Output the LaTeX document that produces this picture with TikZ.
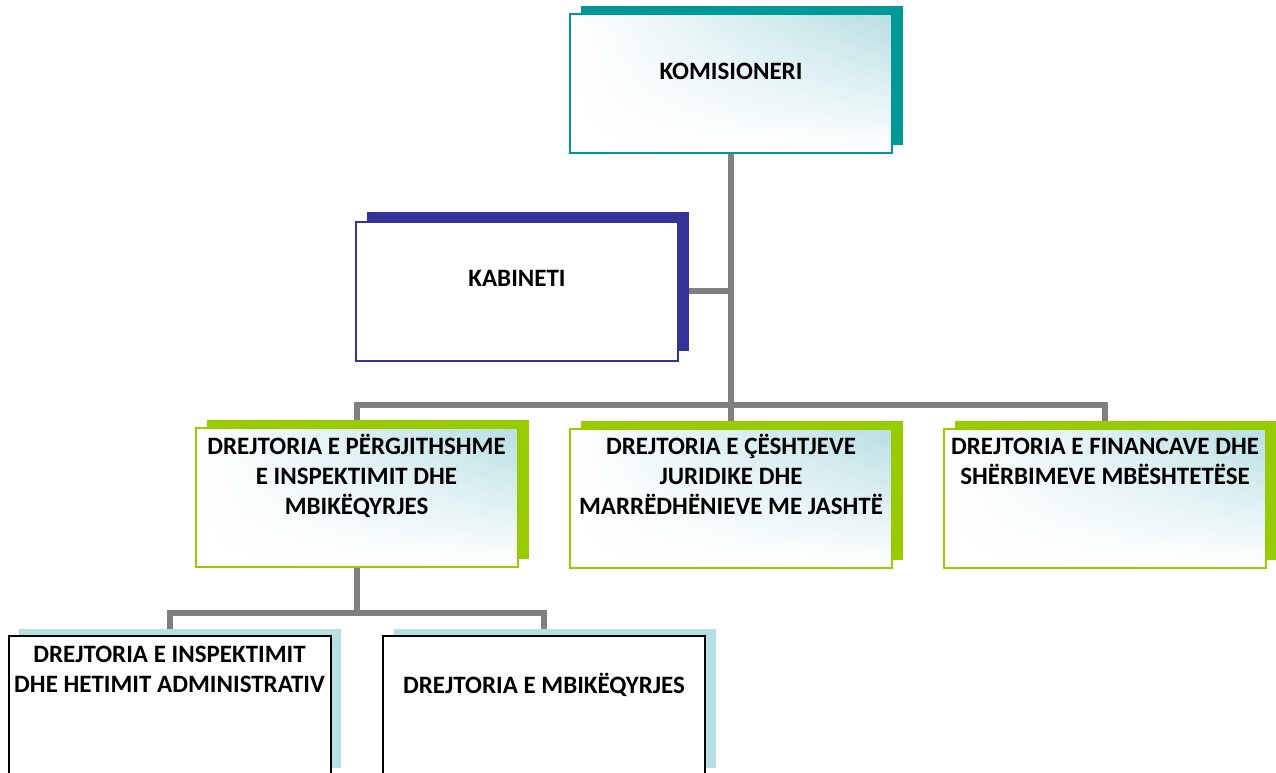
\documentclass[tikz,border=0pt]{standalone}
\usepackage{fontspec}
\setmainfont{Carlito}
\usetikzlibrary{shadows,shadings,backgrounds}
\definecolor{tealc}{HTML}{009999}
\definecolor{navyc}{HTML}{333399}
\definecolor{limec}{HTML}{99CC00}
\definecolor{paleblue}{HTML}{B7DEE3}
\definecolor{linegray}{HTML}{808080}
\newcommand{\ml}[1]{\begin{tabular}[t]{@{}c@{}}#1\end{tabular}}
\begin{document}
\begin{tikzpicture}[x=0.75pt,y=-0.75pt,
  box/.style={rectangle, minimum width=241.5pt, minimum height=104.25pt, inner sep=0pt, line width=1.5pt},
  gradbox/.style={box, lower left=white, upper left=white, lower right=white, upper right=paleblue},
  topbox/.style={gradbox, draw=tealc, drop shadow={shadow xshift=8.25pt, shadow yshift=6pt, fill=tealc, opacity=1}},
  cabbox/.style={box, fill=white, draw=navyc, drop shadow={shadow xshift=8.25pt, shadow yshift=7pt, fill=navyc, opacity=1}},
  dirbox/.style={gradbox, draw=limec, drop shadow={shadow xshift=8.25pt, shadow yshift=6pt, fill=limec, opacity=1}},
  subbox/.style={box, fill=white, draw=black, drop shadow={shadow xshift=8pt, shadow yshift=5.25pt, fill=paleblue, opacity=1}},
  conn/.style={draw=linegray, line width=4.5pt},
  lbl/.style={font=\fontsize{18.75}{22.5}\selectfont\bfseries, inner sep=0pt, anchor=base}]
\clip (0,0) rectangle (1276,772);
% boxes
\node[topbox] (kom) at (731,83.5) {};
\node[cabbox] (kab) at (517,291) {};
\node[dirbox] (a) at (356.5,497.5) {};
\node[dirbox] (b) at (731,498) {};
\node[dirbox] (c) at (1105,498) {};
\node[subbox] (d) at (169.5,705) {};
\node[subbox] (e) at (544,705) {};
\coordinate (bus) at (731,405);
\coordinate (bus2) at (357,613);
% connectors
\begin{scope}[on background layer]
\fill[white] (0,0) rectangle (1276,772);
\draw[conn] (kom.south) -- (b.north);
\draw[conn] (kab.east) -- (kab.east -| kom.south);
\draw[conn] (a.north) -- (a.north |- bus) -- (c.north |- bus) -- (c.north);
\draw[conn] (a.south) -- (a.south |- bus2);
\draw[conn] (d.north) -- (d.north |- bus2) -- (e.north |- bus2) -- (e.north);
\end{scope}
% labels
\node[lbl] (kom-t) at (731,79) {KOMISIONERI};
\node[lbl] (kab-t) at (517,286) {KABINETI};
\node[lbl] (a-t) at (356.5,454) {\ml{DREJTORIA E PËRGJITHSHME\\E INSPEKTIMIT DHE\\MBIKËQYRJES}};
\node[lbl] (b-t) at (731,454) {\ml{DREJTORIA E ÇËSHTJEVE\\JURIDIKE DHE\\MARRËDHËNIEVE ME JASHTË}};
\node[lbl] (c-t) at (1105,454) {\ml{DREJTORIA E FINANCAVE DHE\\SHËRBIMEVE MBËSHTETËSE}};
\node[lbl] (d-t) at (169.5,662) {\ml{DREJTORIA E INSPEKTIMIT\\DHE HETIMIT ADMINISTRATIV}};
\node[lbl] (e-t) at (544,693) {DREJTORIA E MBIKËQYRJES};
\end{tikzpicture}
\end{document}
